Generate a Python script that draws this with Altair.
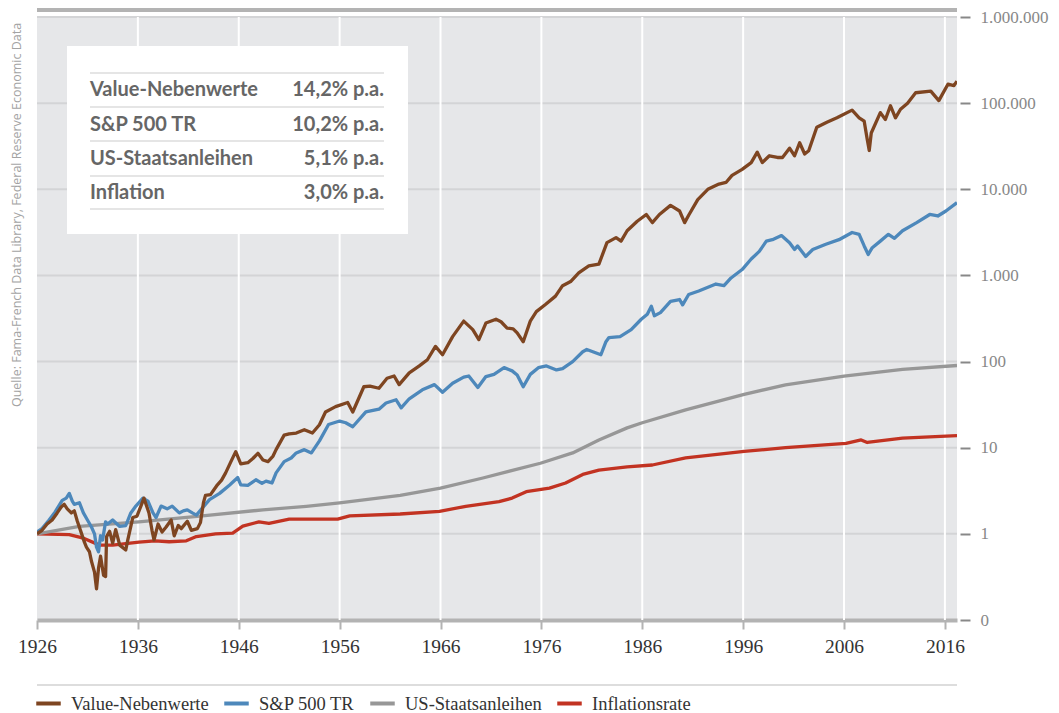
import altair as alt
import pandas as pd

# ---------------- data ----------------
val_years = [1926.0, 1926.5, 1927.0, 1927.5, 1928.0, 1928.4, 1928.7, 1929.0, 1929.4, 1929.7,
             1930.0, 1930.4, 1930.7, 1930.9, 1931.2, 1931.4, 1931.7, 1931.9, 1932.1, 1932.3,
             1932.6, 1932.8, 1932.9, 1933.2, 1933.5, 1933.8, 1934.2, 1934.8, 1935.0, 1935.5,
             1935.9, 1936.3, 1936.6, 1937.1, 1937.4, 1937.6, 1938.0, 1938.4, 1938.8, 1939.3,
             1939.6, 1940.0, 1940.3, 1940.9, 1941.3, 1941.9, 1942.2, 1942.5, 1942.7, 1943.2,
             1943.8, 1944.3, 1944.7, 1945.2, 1945.7, 1946.2, 1946.9, 1947.4, 1947.9, 1948.4,
             1948.9, 1949.4, 1949.7, 1950.5, 1951.0, 1951.7, 1952.5, 1953.3, 1954.0, 1954.6,
             1955.6, 1956.8, 1957.3, 1958.4, 1959.0, 1959.9, 1960.7, 1961.4, 1961.9, 1962.9,
             1963.9, 1964.7, 1965.5, 1966.2, 1967.2, 1968.3, 1969.2, 1969.8, 1970.5, 1971.5,
             1972.0, 1972.6, 1973.2, 1973.6, 1974.2, 1974.9, 1975.5, 1976.4, 1977.4, 1978.1,
             1978.9, 1979.7, 1980.7, 1981.7, 1982.5, 1983.4, 1983.9, 1984.5, 1985.5, 1986.4,
             1987.0, 1987.7, 1988.8, 1989.7, 1990.2, 1990.6, 1991.5, 1992.5, 1993.6, 1994.3,
             1994.9, 1995.9, 1996.8, 1997.4, 1997.9, 1998.6, 1999.4, 1999.9, 2000.6, 2001.1,
             2001.6, 2002.1, 2002.5, 2003.3, 2004.3, 2005.3, 2006.8, 2007.5, 2008.0, 2008.3,
             2008.5, 2008.7, 2009.6, 2010.1, 2010.6, 2011.1, 2011.6, 2012.3, 2013.1, 2014.6,
             2015.4, 2016.3, 2016.9, 2017.2]
val_values = [1.00, 1.10, 1.30, 1.45, 1.75, 2.05, 2.20, 1.95, 1.75, 1.85,
              1.40, 1.02, 0.80, 0.70, 0.62, 0.48, 0.36, 0.23, 0.40, 0.55,
              0.33, 0.32, 0.93, 1.07, 0.78, 1.12, 0.74, 0.65, 0.85, 1.55,
              1.60, 2.10, 2.60, 1.75, 1.10, 0.85, 1.30, 1.05, 1.20, 1.45,
              0.95, 1.25, 1.15, 1.40, 1.10, 1.15, 1.35, 2.30, 2.80, 2.85,
              3.60, 4.20, 5.10, 6.80, 9.00, 6.50, 6.70, 7.50, 8.60, 7.20,
              6.90, 8.00, 9.50, 14.0, 14.5, 14.8, 16.2, 14.8, 18.5, 26.0,
              30.0, 33.5, 26.0, 51.0, 52.0, 49.0, 64.0, 68.0, 54.0, 74.0,
              89.0, 105, 150, 120, 195, 295, 235, 180, 280, 310,
              290, 245, 240, 215, 170, 295, 380, 460, 575, 760,
              850, 1070, 1290, 1350, 2400, 2750, 2500, 3300, 4250, 5100,
              4100, 5100, 6500, 5600, 4100, 5000, 7600, 10000, 11500, 12000,
              14500, 17000, 20400, 27000, 20400, 24500, 23400, 23400, 30000, 24500,
              34700, 25700, 28000, 52500, 60000, 67600, 83000, 67600, 61700, 38000,
              28200, 45000, 77600, 64600, 93300, 67600, 85000, 100000, 132000, 138000,
              107000, 166000, 160000, 180000]

sp_years = [1926.0, 1926.5, 1927.2, 1927.8, 1928.5, 1928.9, 1929.2, 1929.5, 1929.7, 1930.2,
            1930.6, 1931.0, 1931.4, 1931.7, 1931.9, 1932.1, 1932.3, 1932.5, 1932.8, 1933.0,
            1933.5, 1934.2, 1934.8, 1935.3, 1935.8, 1936.5, 1937.0, 1937.5, 1937.8, 1938.3,
            1938.9, 1939.4, 1940.1, 1940.5, 1940.9, 1941.4, 1941.8, 1942.4, 1943.1, 1944.1,
            1945.1, 1945.9, 1946.2, 1946.9, 1947.7, 1948.3, 1948.7, 1949.3, 1949.7, 1950.5,
            1951.2, 1951.7, 1952.5, 1953.2, 1954.0, 1954.9, 1956.0, 1956.6, 1957.3, 1958.6,
            1959.9, 1960.6, 1961.6, 1962.1, 1962.9, 1964.2, 1965.4, 1966.2, 1967.2, 1968.3,
            1968.8, 1969.7, 1970.5, 1971.3, 1972.3, 1973.1, 1973.6, 1974.2, 1974.9, 1975.7,
            1976.5, 1977.5, 1978.1, 1979.1, 1980.1, 1980.5, 1981.1, 1981.9, 1982.4, 1982.7,
            1983.8, 1984.9, 1985.9, 1986.5, 1986.9, 1987.2, 1987.8, 1988.8, 1989.7, 1990.0,
            1990.6, 1991.6, 1993.3, 1994.1, 1994.8, 1995.9, 1996.8, 1997.6, 1998.3, 1998.9,
            1999.8, 2000.6, 2001.1, 2001.4, 2002.2, 2002.9, 2004.2, 2005.5, 2006.8, 2007.5,
            2008.0, 2008.4, 2008.8, 2009.6, 2010.4, 2011.0, 2011.8, 2013.2, 2014.5, 2015.3,
            2016.1, 2017.2]
sp_values = [1.05, 1.15, 1.45, 1.80, 2.45, 2.60, 2.95, 2.40, 2.20, 2.30,
             1.75, 1.45, 1.20, 1.00, 0.70, 0.62, 0.95, 0.85, 1.38, 1.30,
             1.45, 1.22, 1.25, 1.75, 2.10, 2.60, 2.40, 1.75, 1.55, 2.10,
             1.95, 2.10, 1.75, 1.85, 1.90, 1.75, 1.65, 2.00, 2.50, 2.95,
             3.70, 4.50, 3.70, 3.65, 4.25, 3.85, 4.10, 3.90, 5.10, 6.90,
             7.60, 8.70, 9.50, 8.70, 12.0, 18.6, 20.4, 19.5, 17.5, 26.0,
             28.0, 33.0, 36.0, 29.0, 37.0, 47.0, 54.0, 44.0, 56.0, 66.0,
             68.0, 50.0, 67.0, 71.0, 85.0, 78.0, 70.0, 51.0, 71.0, 85.0,
             89.0, 80.0, 83.0, 100, 130, 138, 130, 120, 170, 190,
             195, 235, 310, 355, 440, 340, 370, 500, 525, 455,
             600, 660, 795, 760, 935, 1170, 1550, 1900, 2500, 2600,
             2900, 2400, 2000, 2200, 1660, 2000, 2300, 2600, 3150, 3000,
             2200, 1750, 2100, 2500, 3000, 2700, 3300, 4100, 5100, 4900,
             5600, 7000]

bond_years = [1926.0, 1930.2, 1936.1, 1942.4, 1948.4, 1952.7, 1956.0, 1962.0, 1966.0, 1970.2,
              1975.9, 1979.1, 1981.7, 1984.5, 1986.0, 1990.3, 1996.1, 2000.2, 2006.0, 2011.8,
              2017.2]
bond_values = [1.0, 1.22, 1.38, 1.62, 1.90, 2.09, 2.29, 2.80, 3.39, 4.45,
               6.6, 8.7, 12.3, 17.0, 19.5, 27.5, 41.7, 53.7, 67.6, 81.3,
               90.0]

infl_years = [1926.0, 1929.2, 1930.5, 1932.2, 1933.5, 1936.1, 1937.7, 1939.1, 1940.8, 1941.8,
              1943.7, 1945.4, 1946.4, 1948.0, 1949.0, 1951.0, 1952.6, 1955.8, 1957.0, 1962.0,
              1965.9, 1968.5, 1971.8, 1973.1, 1974.5, 1976.8, 1978.4, 1980.1, 1981.7, 1984.5,
              1987.0, 1990.3, 1996.1, 2000.2, 2006.2, 2007.7, 2008.3, 2011.8, 2017.2]
infl_values = [1.0, 0.98, 0.90, 0.74, 0.74, 0.80, 0.83, 0.81, 0.83, 0.93,
               1.0, 1.02, 1.23, 1.38, 1.32, 1.48, 1.48, 1.48, 1.62, 1.70,
               1.82, 2.09, 2.37, 2.60, 3.09, 3.39, 3.89, 4.90, 5.50, 6.0,
               6.3, 7.6, 9.06, 10.0, 11.2, 12.3, 11.5, 12.9, 13.8]

series_names = ["Value-Nebenwerte", "S&P 500 TR", "US-Staatsanleihen", "Inflationsrate"]
series_colors = ["#7e4521", "#4d88bb", "#979797", "#c23322"]

x_ticks = [1926, 1936, 1946, 1956, 1966, 1976, 1986, 1996, 2006, 2016]
x_grid = [1936, 1946, 1956, 1966, 1976, 1986, 1996, 2006, 2016]
y_ticks = [0.1, 1, 10, 100, 1000, 10000, 100000, 1000000]
y_tick_labels = ["0", "1", "10", "100", "1.000", "10.000", "100.000", "1.000.000"]
y_grid = [1, 10, 100, 1000, 10000, 100000, 1000000]

table_names = ["Value-Nebenwerte", "S&P 500 TR", "US-Staatsanleihen", "Inflation"]
table_rates = ["14,2% p.a.", "10,2% p.a.", "5,1% p.a.", "3,0% p.a."]
source_text = "Quelle: Fama-French Data Library, Federal Reserve Economic Data"

# ---------------- build ----------------
W, H = 920, 603
SERIF = "Liberation Serif"
SANS = "Lato"

x_scale = alt.Scale(domain=[1926, 2017.2], nice=False, zero=False)
y_scale = alt.Scale(type="log", domain=[0.1, 1000000], nice=False)
color_scale = alt.Scale(domain=series_names, range=series_colors)

label_expr = ""
for v, lab in zip(y_ticks, y_tick_labels):
    label_expr += f"datum.value < {v * 1.5} ? '{lab}' : "
label_expr += "''"

x_axis = alt.Axis(values=x_ticks, format="d", grid=False, domainColor="#b3b3b3",
                  domainWidth=4, tickColor="#b3b3b3", tickWidth=2, tickSize=9,
                  labelFont=SERIF, labelFontSize=19.5, labelColor="#333333",
                  labelPadding=8, labelFlush=False)
y_axis = alt.Axis(orient="right", values=y_ticks, labelExpr=label_expr, grid=False,
                  domain=False, offset=3, tickSize=10, tickColor="#888888", tickWidth=2,
                  labelFont=SERIF, labelFontSize=17, labelColor="#888888",
                  labelPadding=10, labelBaseline="middle")

hgrid = alt.Chart(pd.DataFrame({"v": y_grid})).mark_rule(
    color="#d3d4d6", strokeWidth=2).encode(
    y=alt.Y("v:Q", scale=y_scale, axis=y_axis, title=None))

vgrid = alt.Chart(pd.DataFrame({"yr": x_grid})).mark_rule(
    color="white", strokeWidth=2).encode(
    x=alt.X("yr:Q", scale=x_scale, axis=x_axis, title=None))

series_data = {
    "Inflationsrate": (infl_years, infl_values),
    "US-Staatsanleihen": (bond_years, bond_values),
    "S&P 500 TR": (sp_years, sp_values),
    "Value-Nebenwerte": (val_years, val_values),
}

legend = alt.Legend(orient="none", legendX=-3, legendY=672, direction="horizontal",
                    title=None, symbolType="stroke", symbolStrokeWidth=4, symbolSize=600,
                    labelFont=SERIF, labelFontSize=18.5, labelColor="#333333",
                    columnPadding=7, labelOffset=8, padding=0)

line_layers = []
for name, (yrs, vals) in series_data.items():
    d = pd.DataFrame({"year": yrs, "value": vals, "series": name})
    line_layers.append(
        alt.Chart(d).mark_line(strokeWidth=3.3, clip=True, strokeJoin="round").encode(
            x=alt.X("year:Q", scale=x_scale, title=None),
            y=alt.Y("value:Q", scale=y_scale, title=None),
            color=alt.Color("series:N", scale=color_scale, legend=legend),
        )
    )

one = pd.DataFrame({"a": [0]})

top_line = alt.Chart(one).mark_rule(color="#b3b3b3", strokeWidth=4).encode(
    x=alt.value(0), x2=alt.value(W), y=alt.value(-7))
legend_line = alt.Chart(one).mark_rule(color="#dddddd", strokeWidth=2).encode(
    x=alt.value(0), x2=alt.value(W), y=alt.value(668))

source = alt.Chart(one).mark_text(angle=270, font="Open Sans", fontSize=12.5,
                                  color="#a3a3a3", align="center",
                                  baseline="middle").encode(
    x=alt.value(-20), y=alt.value(198), text=alt.value(source_text))

box = alt.Chart(one).mark_rect(color="white").encode(
    x=alt.value(30), x2=alt.value(371), y=alt.value(29), y2=alt.value(217))

table_layers = [box]
line_ys = [56, 90, 124, 159, 192]
for ly in line_ys:
    table_layers.append(alt.Chart(one).mark_rule(color="#dcdcdc", strokeWidth=1.5).encode(
        x=alt.value(53), x2=alt.value(347), y=alt.value(ly)))
row_ys = [73, 108, 142, 176]
for nm, rt, ry in zip(table_names, table_rates, row_ys):
    table_layers.append(alt.Chart(one).mark_text(
        font=SANS, fontSize=20, fontWeight="bold", color="#666666",
        align="left", baseline="middle").encode(
        x=alt.value(53), y=alt.value(ry), text=alt.value(nm)))
    table_layers.append(alt.Chart(one).mark_text(
        font=SANS, fontSize=20, fontWeight="bold", color="#666666",
        align="right", baseline="middle").encode(
        x=alt.value(347), y=alt.value(ry), text=alt.value(rt)))

chart = alt.layer(
    hgrid, vgrid, *line_layers, *table_layers, top_line, legend_line, source
).properties(
    width=W, height=H,
    autosize=alt.AutoSizeParams(type="none"),
    padding={"left": 29, "top": 9, "right": 94, "bottom": 96},
).configure_view(
    fill="#e6e7e9", stroke=None
)

chart.save("out.html", embed_options={"renderer": "svg", "actions": False})
